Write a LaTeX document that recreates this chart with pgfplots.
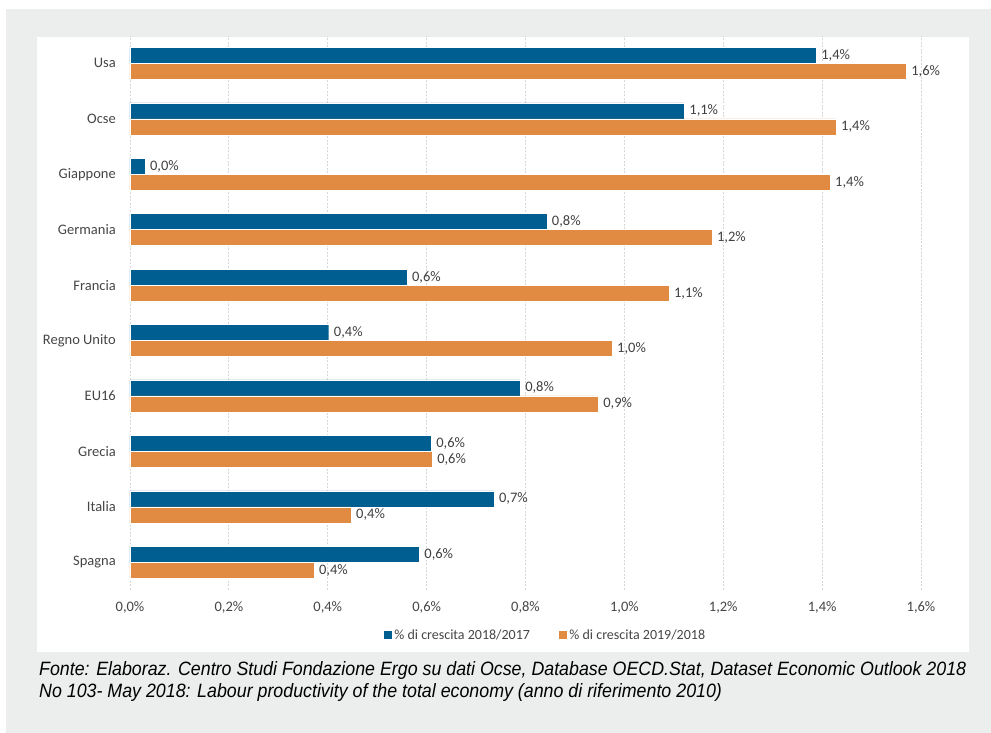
\documentclass[border=0pt]{standalone}
\usepackage{fontspec}
\setmainfont{Carlito}
\newfontfamily\capfont{Liberation Sans}
\usepackage{pgfplots}
\usepackage{pgfplotstable}
\usepackage{graphicx}
\pgfplotsset{compat=1.18}
\definecolor{bgray}{RGB}{236,237,237}
\definecolor{cblue}{RGB}{0,94,144}
\definecolor{corange}{RGB}{224,138,66}
\definecolor{tgray}{RGB}{70,70,70}
\definecolor{lgray}{RGB}{64,64,64}
\definecolor{tealc}{RGB}{20,134,142}
\definecolor{gridc}{RGB}{215,215,215}
\pgfplotstableread{
y a b
0 0.585 0.372
1 0.736 0.447
2 0.609 0.611
3 0.789 0.947
4 0.402 0.975
5 0.560 1.090
6 0.843 1.177
7 0.030 1.416
8 1.121 1.428
9 1.388 1.570
}\data
\newsavebox\capA
\newsavebox\capB
\begin{document}
\sbox\capA{\capfont\itshape\fontsize{19.3}{22}\selectfont Fonte: Elaboraz. Centro Studi Fondazione Ergo su dati Ocse, Database OECD.Stat, Dataset Economic Outlook 2018}%
\sbox\capB{\capfont\itshape\fontsize{19.3}{22}\selectfont No 103- May 2018: Labour productivity of the total economy (anno di riferimento 2010)}%
\pgfmathsetmacro\capscale{927/\the\wd\capA}%
\begin{tikzpicture}[x=1pt,y=1pt]
\useasboundingbox (0,0) rectangle (991,733);
\fill[white] (0,0) rectangle (991,733);
\fill[bgray] (6,0) rectangle (991,724);
\fill[white] (37,81) rectangle (969,696);
\node[anchor=base west, inner sep=0pt, text=tealc] at (39,57) {\scalebox{\capscale}[1]{\usebox\capA}};
\node[anchor=base west, inner sep=0pt, text=tealc] at (39,35.5) {\scalebox{\capscale}[1]{\usebox\capB}};
\begin{axis}[
  at={(130pt,143pt)}, anchor=south west,
  scale only axis, width=791pt, height=554.4pt,
  xbar,
  legend image code/.code={\fill[#1] (0pt,-4.5pt) rectangle (9pt,4.5pt);},
  xmin=0, xmax=1.6, ymin=-0.5, ymax=9.5,
  xtick={0,0.2,0.4,0.6,0.8,1.0,1.2,1.4,1.6},
  ytick={0,1,2,3,4,5,6,7,8,9},
  yticklabels={Spagna,Italia,Grecia,EU16,Regno Unito,Francia,Germania,Giappone,Ocse,Usa},
  xticklabel={\pgfmathprintnumber[fixed,fixed zerofill,precision=1,use comma,assume math mode=true]{\tick}\%},
  xmajorgrids,
  major grid style={gridc, dash pattern=on 2pt off 1.5pt, line width=0.8pt},
  axis line style={draw=none},
  major tick length=0pt,
  tick label style={font=\fontsize{14.5}{17}\selectfont, text=tgray},
  yticklabel style={anchor=east, inner xsep=0pt, xshift=-14pt},
  xticklabel style={anchor=north, yshift=-8pt},
  clip=false,
  bar width=16pt,
  point meta=x,
  nodes near coords={\pgfmathprintnumber[fixed,fixed zerofill,precision=1,use comma,assume math mode=true]{\pgfplotspointmeta}\%},
  nodes near coords style={anchor=west, font=\fontsize{14.5}{17}\selectfont, text=lgray, inner xsep=5pt},
  legend style={at={(rel axis cs:0.5247,-0.081)}, anchor=center, draw=none, fill=none,
    legend columns=2, font=\fontsize{14}{17}\selectfont, text=tgray,
    /tikz/every even column/.append style={column sep=26pt},
    nodes={inner xsep=2pt}},
]
\addplot[fill=cblue, draw=white, line width=0.4pt, bar shift=8pt] table[x=a,y=y]{\data};
\addlegendentry{\% di crescita 2018/2017}
\addplot[fill=corange, draw=white, line width=0.4pt, bar shift=-8pt] table[x=b,y=y]{\data};
\addlegendentry{\% di crescita 2019/2018}
\end{axis}
\end{tikzpicture}
\end{document}
